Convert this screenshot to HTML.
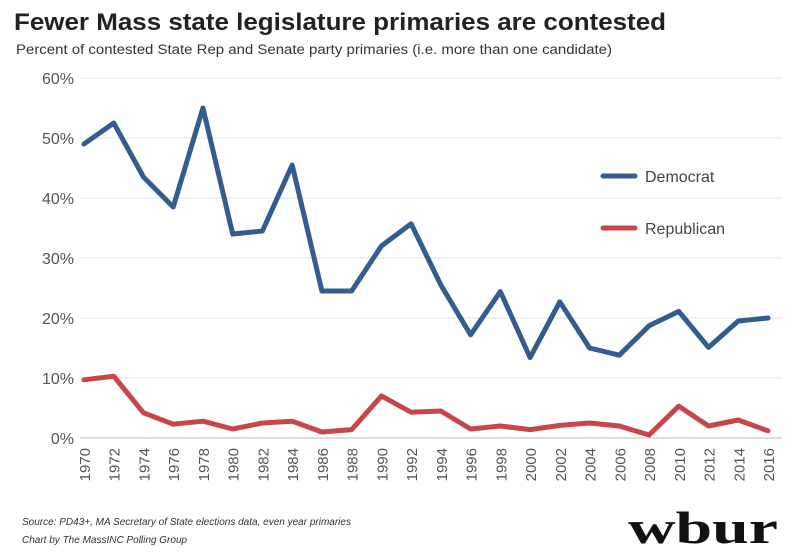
<!DOCTYPE html>
<html><head><meta charset="utf-8">
<style>
body{margin:0;background:#fff;}
svg{display:block;font-family:"Liberation Sans",sans-serif;}
</style></head>
<body>
<svg id="chart" width="800" height="560">
<text x="14" y="30" font-size="24" font-weight="bold" fill="#222" textLength="652" lengthAdjust="spacingAndGlyphs">Fewer Mass state legislature primaries are contested</text>
<text x="16" y="54" font-size="13.5" fill="#333" textLength="596" lengthAdjust="spacingAndGlyphs">Percent of contested State Rep and Senate party primaries (i.e. more than one candidate)</text>
<g id="grid"></g>
<g id="series"></g>
<g>
<line x1="603" y1="176" x2="635" y2="176" stroke="#335d8f" stroke-width="5" stroke-linecap="round"/>
<text x="645" y="182" font-size="16" fill="#444">Democrat</text>
<line x1="603" y1="228" x2="635" y2="228" stroke="#c8464a" stroke-width="5" stroke-linecap="round"/>
<text x="645" y="234" font-size="16" fill="#444">Republican</text>
</g>
<text x="22" y="525" font-size="10" font-style="italic" fill="#333">Source: PD43+, MA Secretary of State elections data, even year primaries</text>
<text x="22" y="543" font-size="10" font-style="italic" fill="#333">Chart by The MassINC Polling Group</text>
<text x="628" y="543" font-size="46" font-weight="bold" font-family="Liberation Serif,serif" fill="#111" textLength="150" lengthAdjust="spacingAndGlyphs">wbur</text>
</svg>
<script>
const years=[1970,1972,1974,1976,1978,1980,1982,1984,1986,1988,1990,1992,1994,1996,1998,2000,2002,2004,2006,2008,2010,2012,2014,2016];
const democrat=[49,52.5,43.5,38.5,55,34,34.5,45.5,24.5,24.5,32,35.7,25.5,17.2,24.4,13.4,22.7,15,13.8,18.7,21.1,15.1,19.5,20];
const republican=[9.7,10.3,4.2,2.3,2.8,1.5,2.5,2.8,1.0,1.4,7.0,4.3,4.5,1.5,2.0,1.4,2.1,2.5,2.0,0.5,5.3,2.0,3.0,1.2];
const yTicks=[0,10,20,30,40,50,60];
const NS="http://www.w3.org/2000/svg";
const x=i=>84+i*(768-84)/(years.length-1);
const y=v=>438-v*6;
const grid=document.getElementById('grid'),ser=document.getElementById('series');
function mk(tag,attrs,parent){const e=document.createElementNS(NS,tag);for(const k in attrs)e.setAttribute(k,attrs[k]);parent.appendChild(e);return e;}
yTicks.forEach(t=>{
  const l=mk('line',{x1:80,x2:782,y1:y(t),y2:y(t),stroke:t===0?'#bbb':'#e3e3e3','stroke-width':1},grid);
  
  
  const tx=mk('text',{x:74,y:y(t)+6,'font-size':16,fill:'#555','text-anchor':'end'},grid);
  tx.textContent=t+'%';
  
  
});
years.forEach((yr,i)=>{
  const tx=mk('text',{x:0,y:0,'font-size':15,fill:'#555','text-anchor':'end',transform:`translate(${x(i)+6},448) rotate(-90)`},grid);
  tx.textContent=yr;
  
  
});
function line(vals,color,name){
  const p=mk('polyline',{points:vals.map((v,i)=>x(i)+','+y(v)).join(' '),fill:'none',stroke:color,'stroke-width':5,'stroke-linejoin':'round','stroke-linecap':'round'},ser);
  
  
}
line(democrat,'#335d8f','democrat-line');
line(republican,'#c8464a','republican-line');
</script>
</body></html>
